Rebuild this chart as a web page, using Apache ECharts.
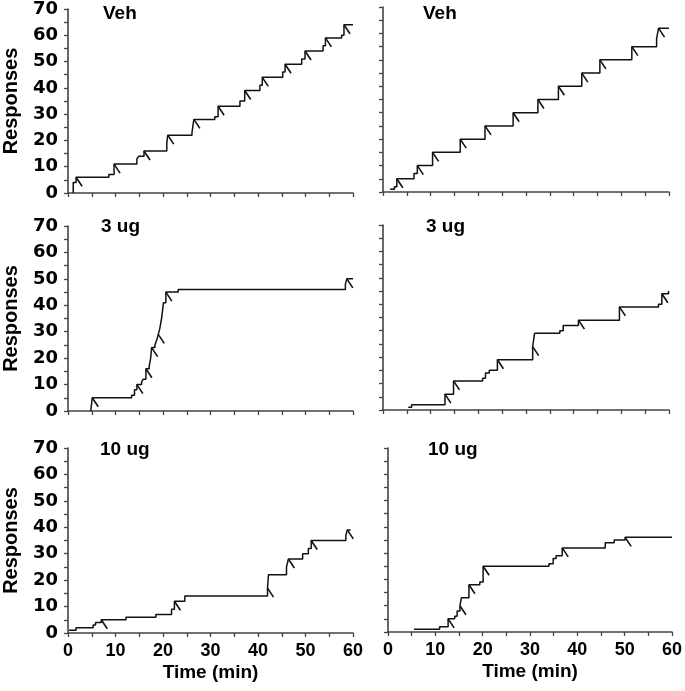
<!DOCTYPE html>
<html>
<head>
<meta charset="utf-8">
<script src="https://cdn.jsdelivr.net/npm/echarts@6/dist/echarts.min.js"></script>
<style>
html,body{margin:0;padding:0;background:#fff;}
#chart{width:685px;height:691px;}
</style>
</head>
<body>
<div id="chart"></div>
<script>
// ---- data: cumulative records [time (min), cumulative responses] ----
const panelTitles = ['Veh', 'Veh', '3 ug', '3 ug', '10 ug', '10 ug'];

const vehLeft = [[1.1,0],[1.1,4],[1.7,6],[8.6,7],[9.7,11],[14.5,13],[14.9,14],[16.0,16],[20.8,19],[21.0,22],
  [26.1,23],[26.5,28],[30.9,29],[31.6,33],[36.2,35],[37.2,39],[40.4,41],[40.9,44],[45.2,46],[45.7,49],
  [49.2,51],[49.9,54],[53.7,56],[54.2,59],[57.6,60],[58.1,64],[60,64]];
const vehLeftPips = [[1.7,6],[9.7,11],[16.0,16],[21.0,22],[26.5,28],[31.6,33],[37.2,39],[40.9,44],[45.7,49],[49.9,54],[54.2,59],[58.1,64]];

const vehRight = [[1.5,1],[2.4,2],[2.9,5],[6.5,7],[7.2,10],[10.4,15],[16.2,20],[21.4,25],[27.3,30],[32.5,35],
  [36.8,40],[41.7,45],[45.5,50],[52.2,55],[57.4,58],[57.8,62],[60,62]];
const vehRightPips = [[2.9,5],[7.2,10],[10.4,15],[16.2,20],[21.4,25],[27.3,30],[32.5,35],[36.8,40],[41.7,45],[45.5,50],[52.2,55],[57.8,62]];

const ug3Left = [[4.8,0],[5.1,5],[13.4,6],[14.0,8],[14.5,10],[15.5,11],[15.8,12],[16.4,16],[17.1,17],[17.4,20],
  [17.6,24],[18.3,25],[18.7,27],[19.0,29],[19.3,31],[19.5,33],[19.7,35],[19.9,38],[20.1,41],[20.6,45],
  [23.2,46],[58.4,48],[58.7,50],[60,50]];
const ug3LeftPips = [[5.1,5],[14.5,10],[16.4,16],[17.6,24],[19.0,29],[20.6,45],[58.7,50]];

const ug3Right = [[5.3,1],[6.0,2],[13.0,6],[14.8,11],[20.9,12],[21.5,14],[22.3,15],[24.0,19],[31.4,24],[31.8,29],
  [37.1,30],[37.8,32],[41.0,34],[49.6,39],[57.8,40],[58.5,44],[59.9,45],[60,45]];
const ug3RightPips = [[13.0,6],[14.8,11],[24.0,19],[31.4,24],[41.0,34],[49.6,39],[58.5,44]];

const ug10Left = [[0.2,1],[1.7,2],[5.3,3],[5.8,4],[7.0,5],[12.2,6],[18.5,7],[21.8,9],[22.4,12],[24.6,14],
  [42.0,17],[42.2,22],[46.0,25],[46.4,28],[49.4,30],[50.6,32],[51.2,35],[58.5,37],[58.8,39],[59.5,39]];
const ug10LeftPips = [[7.0,5],[22.4,12],[42.0,17],[46.4,28],[51.2,35],[58.8,39]];

const ug10Right = [[5.5,1],[10.9,2],[12.7,5],[14.1,6],[14.6,8],[15.2,10],[15.5,13],[17.1,18],[19.4,19],[20.1,25],
  [34.0,26],[34.9,28],[35.5,29],[36.8,32],[45.9,34],[47.8,35],[50.1,36],[60,36]];
const ug10RightPips = [[12.7,5],[15.2,10],[17.1,18],[20.1,25],[36.8,32],[50.1,36]];

const records = [vehLeft, vehRight, ug3Left, ug3Right, ug10Left, ug10Right];
const pips = [vehLeftPips, vehRightPips, ug3LeftPips, ug3RightPips, ug10LeftPips, ug10RightPips];

const xTicks = {min: 0, max: 60, interval: 10};
const yTicks = {min: 0, max: 70, interval: 10};

// ---- layout / style ----
const FF = '"Liberation Sans", Arial, Helvetica, sans-serif';
const FFY = '"DejaVu Sans", "Liberation Sans", Arial, sans-serif';
const grids = [
  {left: 68, top: 8, width: 285, height: 185},
  {left: 383, top: 7, width: 286, height: 185},
  {left: 68, top: 226, width: 285, height: 185},
  {left: 383, top: 225, width: 286, height: 185},
  {left: 68, top: 448, width: 285, height: 185},
  {left: 388, top: 448, width: 285, height: 184}
];
const titlePos = [[103, 4], [423, 4], [101, 217], [426, 217], [100, 440], [428, 440]];

const axisLine = {show: true, lineStyle: {color: '#444', width: 1.6}};
const tickStyle = {show: true, length: 4, lineStyle: {color: '#444', width: 1.3}};

const xAxes = [], yAxes = [], series = [], titles = [];
for (let i = 0; i < 6; i++) {
  const bottomRow = i >= 4;
  const leftCol = i % 2 === 0;
  xAxes.push({
    type: 'value', gridIndex: i, min: xTicks.min, max: xTicks.max, interval: xTicks.interval,
    axisLine: axisLine, axisTick: tickStyle,
    minorTick: {show: true, splitNumber: 2, length: 4, lineStyle: {color: '#444', width: 1.3}},
    splitLine: {show: false},
    axisLabel: {show: bottomRow, margin: 9, color: '#000', fontSize: 18, fontWeight: 'bold', fontFamily: FF},
    name: bottomRow ? 'Time (min)' : '', nameLocation: 'middle', nameGap: 30,
    nameTextStyle: {color: '#000', fontSize: 19, fontWeight: 'bold', fontFamily: FF}
  });
  yAxes.push({
    type: 'value', gridIndex: i, min: yTicks.min, max: yTicks.max, interval: yTicks.interval,
    axisLine: axisLine, axisTick: tickStyle,
    minorTick: {show: true, splitNumber: 2, length: 4, lineStyle: {color: '#444', width: 1.3}},
    splitLine: {show: false},
    axisLabel: {show: leftCol, margin: 10, color: '#000', fontSize: 18, fontWeight: 'bold', fontFamily: FFY},
    name: leftCol ? 'Responses' : '', nameLocation: 'middle', nameGap: 47,
    nameTextStyle: {color: '#000', fontSize: 20, fontWeight: 'bold', fontFamily: FF}
  });
  series.push({
    type: 'line', xAxisIndex: i, yAxisIndex: i, data: records[i], step: 'end',
    symbol: 'none', animation: false, silent: true,
    lineStyle: {color: '#111', width: 1.5}
  });
  series.push({
    type: 'custom', xAxisIndex: i, yAxisIndex: i, data: pips[i], animation: false, silent: true,
    renderItem: function (params, api) {
      const p = api.coord([api.value(0), api.value(1)]);
      return {type: 'line', shape: {x1: p[0], y1: p[1], x2: p[0] + 6, y2: p[1] + 9},
        style: {stroke: '#111', lineWidth: 1.6}};
    }
  });
  titles.push({
    text: panelTitles[i], left: titlePos[i][0], top: titlePos[i][1], padding: 0,
    textStyle: {color: '#000', fontSize: 19, fontWeight: 'bold', fontFamily: FF}
  });
}

const chart = echarts.init(document.getElementById('chart'), null, {renderer: 'canvas'});
chart.setOption({
  animation: false,
  backgroundColor: '#fff',
  title: titles,
  grid: grids,
  xAxis: xAxes,
  yAxis: yAxes,
  series: series
});
</script>
</body>
</html>
